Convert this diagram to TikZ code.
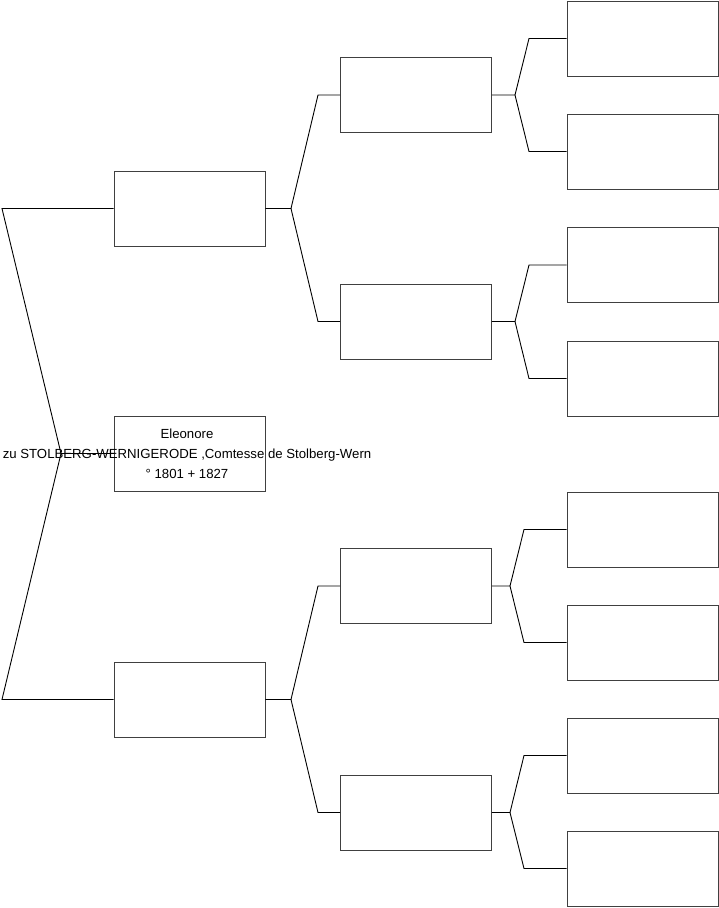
\documentclass[tikz,border=0pt]{standalone}
\usepackage{fontspec}
\setmainfont{Liberation Sans}
\begin{document}
\begin{tikzpicture}[x=1pt,y=-1pt,
  pbox/.style={draw=black!75,line width=0.9pt,minimum width=151pt,minimum height=75pt,inner sep=0pt},
  conn/.style={draw=black,line width=0.9pt},
  lbl/.style={align=center,font=\fontsize{13.2}{20}\selectfont}]
\useasboundingbox (0,0) rectangle (719,908);
% column 1
\node[pbox] (a1) at (189.5,208.5) {};
\node[pbox] (a2) at (189.5,453.5) {};
\node[pbox] (a3) at (189.5,699.5) {};
\node[lbl] (t) at (187,453.5) {Eleonore\\zu STOLBERG-WERNIGERODE ,Comtesse de Stolberg-Wern\\° 1801 + 1827};
% column 2
\node[pbox] (b1) at (416,95) {};
\node[pbox] (b2) at (416,321.5) {};
\node[pbox] (b3) at (416,586) {};
\node[pbox] (b4) at (416,812.5) {};
% column 3
\foreach \n/\y in {1/38.5,2/151.5,3/265,4/378.5,5/529.5,6/642.5,7/755.5,8/868.5}
  \node[pbox] (c\n) at (642.5,\y) {};
% root connectors
\coordinate (r) at (61,453.5);
\coordinate (ru) at (2,208.5);
\coordinate (rd) at (2,699.5);
\draw[conn] (a2.west) -- (r);
\draw[conn] (r) -- (ru) -- (a1.west);
\draw[conn] (r) -- (rd) -- (a3.west);
% column 1 -> column 2
\coordinate (v1) at (291,208.5);
\coordinate (v1u) at (318,95);
\coordinate (v1d) at (318,321.5);
\draw[conn] (a1.east) -- (v1) -- (v1u) -- (b1.west);
\draw[conn] (v1) -- (v1d) -- (b2.west);
\coordinate (v3) at (291,699.5);
\coordinate (v3u) at (318,586);
\coordinate (v3d) at (318,812.5);
\draw[conn] (a3.east) -- (v3) -- (v3u) -- (b3.west);
\draw[conn] (v3) -- (v3d) -- (b4.west);
% column 2 -> column 3
\coordinate (w1) at (515,95);
\coordinate (w1u) at (529,38.5);
\coordinate (w1d) at (529,151.5);
\draw[conn] (b1.east) -- (w1) -- (w1u) -- (c1.west);
\draw[conn] (w1) -- (w1d) -- (c2.west);
\coordinate (w2) at (515,321.5);
\coordinate (w2u) at (529,265);
\coordinate (w2d) at (529,378.5);
\draw[conn] (b2.east) -- (w2) -- (w2u) -- (c3.west);
\draw[conn] (w2) -- (w2d) -- (c4.west);
\coordinate (w3) at (510,586);
\coordinate (w3u) at (524,529.5);
\coordinate (w3d) at (524,642.5);
\draw[conn] (b3.east) -- (w3) -- (w3u) -- (c5.west);
\draw[conn] (w3) -- (w3d) -- (c6.west);
\coordinate (w4) at (510,812.5);
\coordinate (w4u) at (524,755.5);
\coordinate (w4d) at (524,868.5);
\draw[conn] (b4.east) -- (w4) -- (w4u) -- (c7.west);
\draw[conn] (w4) -- (w4d) -- (c8.west);
\end{tikzpicture}
\end{document}
